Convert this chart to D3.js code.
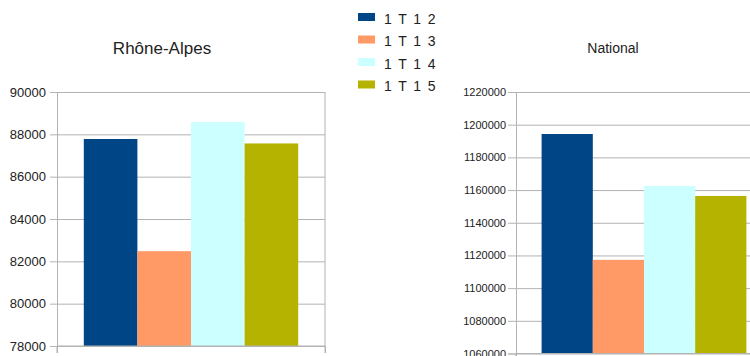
<!DOCTYPE html>
<html>
<head>
<meta charset="utf-8">
<script src="https://cdn.jsdelivr.net/npm/d3@7/dist/d3.min.js"></script>
<style>
  html, body { margin: 0; padding: 0; background: #fff; }
  svg { display: block; font-family: "Liberation Sans", Arial, sans-serif; }
</style>
</head>
<body>
<svg id="chart" width="750" height="356"></svg>
<script>
// Quarterly series (first quarter of each year)
const seriesKeys = ["1T12", "1T13", "1T14", "1T15"];
const seriesLabels = ["1 T 1 2", "1 T 1 3", "1 T 1 4", "1 T 1 5"];
const seriesColors = ["#004586", "#ff9966", "#ccffff", "#b5b300"];

// Values per area
const rhoneAlpesValues = [87780, 82480, 88580, 87570];
const nationalValues = [1194300, 1117300, 1162500, 1156400];

// Axis ticks
const rhoneAlpesTicks = [78000, 80000, 82000, 84000, 86000, 88000, 90000];
const nationalTicks = [1060000, 1080000, 1100000, 1120000, 1140000, 1160000, 1180000, 1200000, 1220000];

const svg = d3.select("#chart");
const gridColor = "#b3b3b3";

function drawPanel(opts) {
  const { values, ticks, title, left, right, top, bottom, fontSize, titleSize, titleX, titleY, tickSize, tickPad } = opts;
  const g = svg.append("g");

  const y = d3.scaleLinear().domain([ticks[0], ticks[ticks.length - 1]]).range([bottom, top]);
  const x0 = d3.scaleBand().domain(["all"]).range([left, right]).paddingInner(0).paddingOuter(0.125);
  const x1 = d3.scaleBand().domain(seriesKeys).range([0, x0.bandwidth()]).padding(0);

  // horizontal gridlines
  g.append("g")
    .attr("transform", `translate(${left},0)`)
    .call(d3.axisLeft(y).tickValues(ticks).tickSize(-(right - left)).tickFormat(""))
    .call(a => a.select(".domain").remove())
    .call(a => a.selectAll("line").attr("stroke", gridColor));

  // right frame line
  g.append("line")
    .attr("x1", right).attr("x2", right)
    .attr("y1", top).attr("y2", bottom + 7)
    .attr("stroke", gridColor);

  // bars
  g.append("g").selectAll("rect")
    .data(seriesKeys.map((k, i) => ({ key: k, value: values[i], color: seriesColors[i] })))
    .join("rect")
    .attr("x", d => x0("all") + x1(d.key))
    .attr("width", x1.bandwidth())
    .attr("y", d => y(d.value))
    .attr("height", d => bottom - y(d.value))
    .attr("fill", d => d.color);

  // y axis with labels
  g.append("g")
    .attr("transform", `translate(${left},0)`)
    .call(d3.axisLeft(y).tickValues(ticks).tickSize(tickSize).tickPadding(tickPad).tickFormat(d3.format("d")))
    .call(a => a.select(".domain").attr("stroke", gridColor))
    .call(a => a.selectAll("line").attr("stroke", gridColor))
    .call(a => a.selectAll("text").attr("fill", "#222").style("font-size", fontSize + "px")
      .style("font-family", "'Liberation Sans', Arial, sans-serif"));

  // x axis (single category, edge ticks only)
  g.append("g")
    .attr("transform", `translate(0,${bottom})`)
    .call(d3.axisBottom(d3.scaleLinear().domain([0, 1]).range([left, right])).tickValues([0, 1]).tickSize(7).tickFormat(""))
    .call(a => a.select(".domain").attr("stroke", gridColor).attr("d", `M${left},0H${right}`))
    .call(a => a.selectAll("line").attr("stroke", gridColor));

  // left axis line extends down to the tick
  g.append("line")
    .attr("x1", left).attr("x2", left)
    .attr("y1", bottom).attr("y2", bottom + 7)
    .attr("stroke", gridColor);

  g.append("text")
    .attr("x", titleX).attr("y", titleY)
    .attr("text-anchor", "middle")
    .attr("fill", "#222")
    .style("font-size", titleSize + "px")
    .text(title);
}

drawPanel({
  values: rhoneAlpesValues, ticks: rhoneAlpesTicks, title: "Rhône-Alpes",
  left: 57, right: 325, top: 92, bottom: 346,
  fontSize: 13, titleSize: 17, titleX: 162, titleY: 54, tickSize: 7, tickPad: 4
});

drawPanel({
  values: nationalValues, ticks: nationalTicks, title: "National",
  left: 516, right: 772, top: 92, bottom: 353.5,
  fontSize: 11, titleSize: 14, titleX: 613, titleY: 53, tickSize: 8, tickPad: 2
});

// legend
const legend = svg.append("g").selectAll("g")
  .data(seriesLabels.map((l, i) => ({ label: l, color: seriesColors[i] })))
  .join("g")
  .attr("transform", (d, i) => `translate(358,${13 + i * 22.5})`);

legend.append("rect")
  .attr("width", 17).attr("height", 8)
  .attr("fill", d => d.color);

legend.append("text")
  .attr("x", 26).attr("y", 10.5)
  .attr("fill", "#222")
  .style("font-size", "14px")
  .style("letter-spacing", "1.4px")
  .text(d => d.label);
</script>
</body>
</html>
